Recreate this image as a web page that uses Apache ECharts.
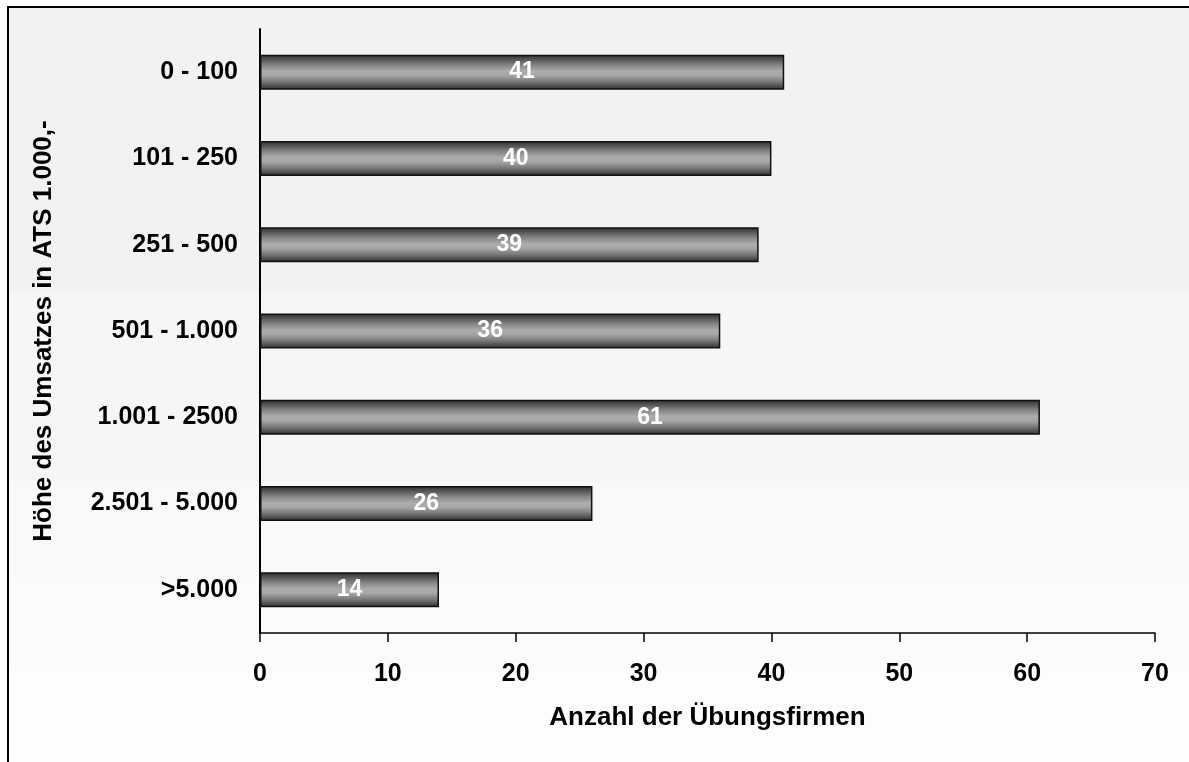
<!DOCTYPE html>
<html>
<head>
<meta charset="utf-8">
<script src="https://cdn.jsdelivr.net/npm/echarts@6/dist/echarts.min.js"></script>
<style>
  html, body { margin: 0; padding: 0; background: #ffffff; }
  #chart { width: 1189px; height: 762px; }
</style>
</head>
<body>
<div id="chart"></div>
<script>
// Umsatzklassen (ATS 1.000,-) und Anzahl der Übungsfirmen je Klasse
const categories = ['0 - 100', '101 - 250', '251 - 500', '501 - 1.000', '1.001 - 2500', '2.501 - 5.000', '>5.000'];
const counts = [41, 40, 39, 36, 61, 26, 14];
const xTicks = [0, 10, 20, 30, 40, 50, 60, 70];

const xAxisTitle = 'Anzahl der Übungsfirmen';
const yAxisTitle = 'Höhe des Umsatzes in ATS 1.000,-';

const FONT = '"Liberation Sans", Arial, sans-serif';

const chart = echarts.init(document.getElementById('chart'));

// soft grey bands behind the plot, getting lighter towards the bottom
const bands = [
  { y: 8, h: 285, c: '#f2f2f2' },
  { y: 293, h: 188, c: '#f6f6f6' },
  { y: 481, h: 96, c: '#f9f9f9' },
  { y: 577, h: 93, c: '#fbfbfb' },
  { y: 670, h: 92, c: '#fdfdfd' }
];

const barFill = new echarts.graphic.LinearGradient(0, 0, 0, 1, [
  { offset: 0, color: '#2a2a2a' },
  { offset: 0.12, color: '#505050' },
  { offset: 0.3, color: '#858585' },
  { offset: 0.48, color: '#adadad' },
  { offset: 0.6, color: '#a6a6a6' },
  { offset: 0.78, color: '#777777' },
  { offset: 0.9, color: '#4f4f4f' },
  { offset: 1, color: '#2a2a2a' }
]);

chart.setOption({
  animation: false,
  backgroundColor: '#ffffff',
  textStyle: { fontFamily: FONT },
  graphic: [
    ...bands.map(b => ({
      type: 'rect', z: -10, silent: true,
      shape: { x: 9, y: b.y, width: 1190, height: b.h },
      style: { fill: b.c }
    })),
    {
      type: 'rect', z: 100, silent: true,
      shape: { x: 8, y: 7, width: 1200, height: 800 },
      style: { fill: 'none', stroke: '#000000', lineWidth: 2 }
    }
  ],
  grid: { left: 260, right: 34, top: 29, bottom: 129, containLabel: false },
  xAxis: {
    type: 'value',
    min: xTicks[0],
    max: xTicks[xTicks.length - 1],
    interval: 10,
    name: xAxisTitle,
    nameLocation: 'middle',
    nameGap: 72,
    nameTextStyle: { fontFamily: FONT, fontWeight: 'bold', fontSize: 26, color: '#000' },
    axisLine: { show: true, lineStyle: { color: '#000', width: 1.5 } },
    axisTick: { show: true, length: 9, lineStyle: { color: '#000', width: 1.5 } },
    axisLabel: { fontFamily: FONT, fontWeight: 'bold', fontSize: 25, color: '#000', margin: 29 },
    splitLine: { show: false }
  },
  yAxis: {
    type: 'category',
    data: categories,
    inverse: true,
    name: yAxisTitle,
    nameLocation: 'middle',
    nameRotate: 90,
    nameGap: 203,
    nameTextStyle: { fontFamily: FONT, fontWeight: 'bold', fontSize: 26, color: '#000' },
    axisLine: { show: true, lineStyle: { color: '#000', width: 2 } },
    axisTick: { show: false },
    axisLabel: { fontFamily: FONT, fontWeight: 'bold', fontSize: 25, color: '#000', margin: 22 },
    splitLine: { show: false }
  },
  series: [{
    type: 'bar',
    data: counts,
    barWidth: 35,
    itemStyle: { color: barFill, borderColor: '#111111', borderWidth: 1.5 },
    label: {
      show: true,
      position: 'inside',
      color: '#ffffff',
      fontFamily: FONT,
      fontWeight: 'bold',
      fontSize: 23
    }
  }]
});
</script>
</body>
</html>
